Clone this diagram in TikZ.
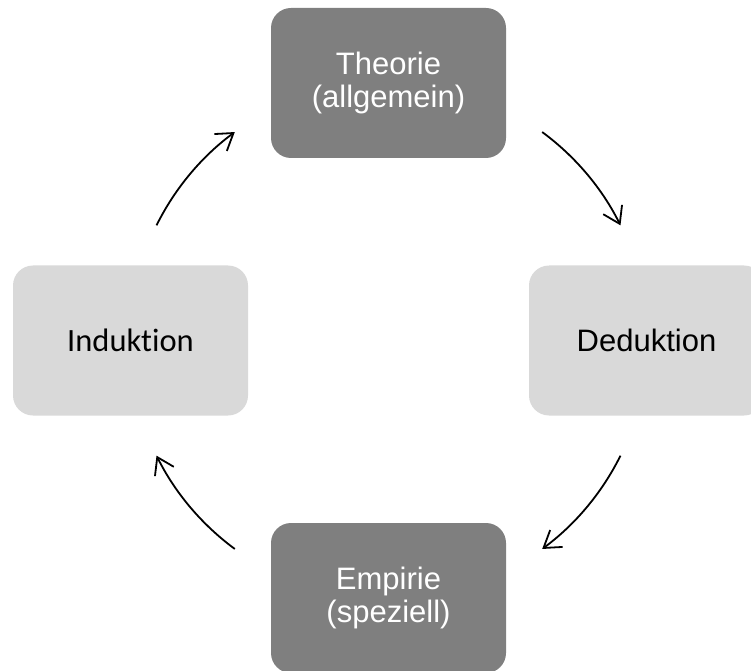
\documentclass[tikz,border=0pt]{standalone}
\usepackage{fontspec}
\setmainfont{Liberation Sans}
\newfontfamily\carlitofont[Ligatures=NoCommon]{Carlito}
\usetikzlibrary{arrows.meta,calc}

\definecolor{boxdark}{HTML}{7F7F7F}
\definecolor{boxlight}{HTML}{D9D9D9}

\tikzset{
  card/.style={rectangle, rounded corners=20pt, minimum width=235pt,
    minimum height=150pt, inner sep=0pt, align=center,
    font=\fontsize{31}{33}\selectfont},
  darkcard/.style={card, fill=boxdark, text=white},
  lightcard/.style={card, fill=boxlight, text=black},
  cyclearrow/.style={line width=1.8pt, black,
    -{Straight Barb[length=16pt, width=21pt, line width=1.8pt]}}
}

\begin{document}
\begin{tikzpicture}[x=1pt, y=1pt]
  \clip (0,0) rectangle (751,670);

  % the four stages of the cycle
  \node[darkcard]  (theorie)   at (388.5,587)   {Theorie\\(allgemein)};
  \node[lightcard] (deduktion) at (646.5,329.5) {Deduktion};
  \node[darkcard]  (empirie)   at (388.5,72)    {Empirie\\(speziell)};
  \node[lightcard, font=\carlitofont\fontsize{32.5}{34}\selectfont]
                   (induktion) at (130.5,329.5) {Induktion};

  % centre of the circle that carries the arrows
  \coordinate (o) at (388.5,329.5);
  \def\rad{259}

  \coordinate (tl) at ($(o)+(153.6:\rad)$);
  \coordinate (tr) at ($(o)+(53.6:\rad)$);
  \coordinate (br) at ($(o)+(-26.4:\rad)$);
  \coordinate (bl) at ($(o)+(-126.4:\rad)$);

  \draw[cyclearrow] (tl) arc[start angle=153.6, end angle=126.4, radius=\rad];
  \draw[cyclearrow] (tr) arc[start angle=53.6,  end angle=26.4,  radius=\rad];
  \draw[cyclearrow] (br) arc[start angle=-26.4, end angle=-53.6, radius=\rad];
  \draw[cyclearrow] (bl) arc[start angle=-126.4,end angle=-153.6,radius=\rad];
\end{tikzpicture}
\end{document}
